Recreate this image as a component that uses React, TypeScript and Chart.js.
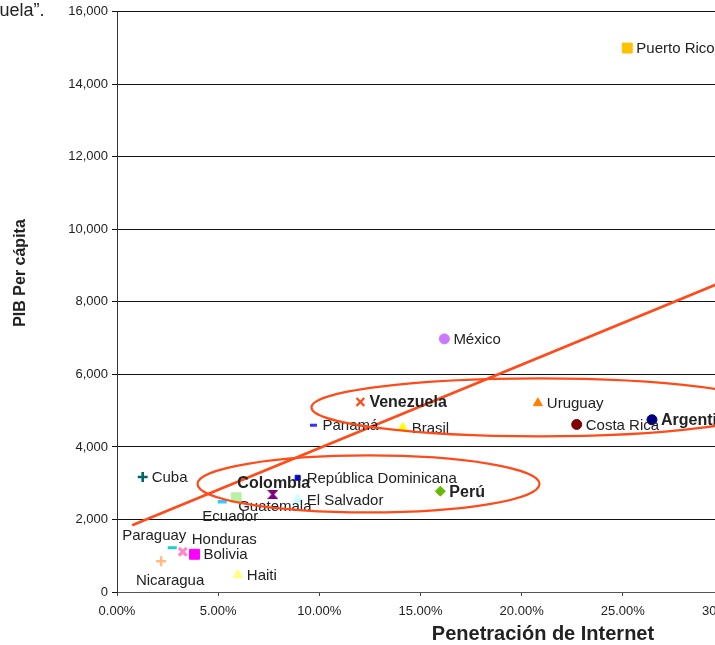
import React, { useEffect, useRef } from "react";
import { Chart, registerables } from "chart.js";

Chart.register(...registerables);

// ---- Data ----
const countries = [
  "Puerto Rico", "México", "Venezuela", "Uruguay", "Panamá", "Brasil", "Costa Rica",
  "Argentina", "Cuba", "República Dominicana", "Colombia", "Perú", "Guatemala",
  "Ecuador", "El Salvador", "Paraguay", "Honduras", "Bolivia", "Nicaragua", "Haiti",
];
const internetPenetration = [
  25.22, 16.18, 12.03, 20.8, 9.71, 14.12, 22.72, 26.44, 1.27, 8.93, 7.7, 15.98, 5.89,
  5.2, 8.93, 2.73, 3.25, 3.83, 2.18, 5.97,
];
const gdpPerCapita = [
  15000, 6980, 5240, 5210, 4600, 4530, 4620, 4750, 3170, 3150, 2690, 2780, 2600,
  2490, 2550, 1220, 1110, 1040, 850, 470,
];
const boldCountries = ["Venezuela", "Argentina", "Colombia", "Perú"];

const trendX = [0.75, 30];
const trendY = [1840, 8570];

// highlighted groups (ellipses), in data units
const ellipseCenterX = [20.87, 12.43];
const ellipseCenterY = [5090, 2980];
const ellipseHalfWidth = [11.26, 8.45];
const ellipseHalfHeight = [800, 785];

const xTicksMax = 30;
const yTicksMax = 16000;

// ---- Styles ----
const markerStyle = [
  "rect", "circle", "crossRot", "triangle", "line", "triangle", "circle", "circle",
  "cross", "rect", "hourglass", "rectRot", "rect", "line", "triangle", "line",
  "crossRot", "rect", "cross", "triangle",
];
const markerColor = [
  "#FFC000", "#CC77FF", "#FF4A1A", "#FF8000", "#3333FF", "#FFFF00", "#800000", "#000080",
  "#006666", "#0000FF", "#800080", "#66BB00", "#B8F0A8", "#33CCFF", "#CCFFFF", "#22CCCC",
  "#FF88CC", "#FF00FF", "#FFBB80", "#FFFF80",
];
const markerSize = [7, 5, 5.5, 5.2, 3.5, 5.2, 5, 5, 5, 3.5, 5, 5, 7, 4.5, 5.5, 4.5, 5.5, 7, 5, 5.5];
const markerBorder = [1, 1, 2.2, 1, 3, 1, 1, 1, 2.6, 1, 1, 1, 1, 3.5, 1, 3, 3.4, 1, 2.4, 1];
const labelPlacement = [
  "right", "right", "right", "right", "right", "right", "right", "right",
  "right", "right", "above", "right", "belowRight", "below", "right", "aboveLeft",
  "aboveRight", "right", "belowCenter", "right",
];

const RED = "#FF4A1A";
const FONT = '"Liberation Sans", Arial, sans-serif';
const TEXT = "#222";

function makeHourglass(color: string) {
  const c = document.createElement("canvas");
  c.width = 11;
  c.height = 9;
  const g = c.getContext("2d")!;
  g.fillStyle = color;
  g.beginPath();
  g.moveTo(0, 0);
  g.lineTo(11, 0);
  g.lineTo(7, 4.5);
  g.lineTo(11, 9);
  g.lineTo(0, 9);
  g.lineTo(4, 4.5);
  g.closePath();
  g.fill();
  return c;
}

const offsets: Record<string, { dx: number; dy: number; align: CanvasTextAlign }> = {
  right: { dx: 9, dy: 1, align: "left" },
  above: { dx: 1, dy: -11, align: "center" },
  belowRight: { dx: 2, dy: 9, align: "left" },
  below: { dx: 8, dy: 15, align: "center" },
  aboveLeft: { dx: -18, dy: -12, align: "center" },
  aboveRight: { dx: 9, dy: -12, align: "left" },
  belowCenter: { dx: 9, dy: 20, align: "center" },
};

export default function App() {
  const ref = useRef<HTMLCanvasElement>(null);

  useEffect(() => {
    const canvas = ref.current!;
    const hourglass = makeHourglass("#800080");
    const pointStyles = markerStyle.map((s) => (s === "hourglass" ? hourglass : s));

    const labelsPlugin = {
      id: "pointLabels",
      afterDatasetsDraw(chart: any) {
        const ctx = chart.ctx;
        const meta = chart.getDatasetMeta(0);
        ctx.save();
        ctx.fillStyle = TEXT;
        ctx.textBaseline = "middle";
        meta.data.forEach((pt: any, i: number) => {
          const bold = boldCountries.includes(countries[i]);
          ctx.font = bold ? `bold 16px ${FONT}` : `15px ${FONT}`;
          const o = offsets[labelPlacement[i]];
          ctx.textAlign = o.align;
          ctx.fillText(countries[i], pt.x + o.dx, pt.y + o.dy);
        });
        ctx.restore();
      },
      afterDraw(chart: any) {
        const ctx = chart.ctx;
        const xs = chart.scales.x;
        const ys = chart.scales.y;
        ctx.save();
        // ellipses
        ctx.strokeStyle = RED;
        ctx.lineWidth = 2.2;
        for (let i = 0; i < ellipseCenterX.length; i++) {
          const cx = xs.getPixelForValue(ellipseCenterX[i]);
          const cy = ys.getPixelForValue(ellipseCenterY[i]);
          const rx = xs.getPixelForValue(ellipseCenterX[i] + ellipseHalfWidth[i]) - cx;
          const ry = cy - ys.getPixelForValue(ellipseCenterY[i] + ellipseHalfHeight[i]);
          ctx.beginPath();
          ctx.ellipse(cx, cy, rx, ry, 0, 0, Math.PI * 2);
          ctx.stroke();
        }
        // axis titles
        ctx.fillStyle = TEXT;
        ctx.textAlign = "center";
        ctx.textBaseline = "alphabetic";
        ctx.font = `bold 20px ${FONT}`;
        ctx.fillText("Penetración de Internet", 543, 640);
        ctx.save();
        ctx.translate(25, 273);
        ctx.rotate(-Math.PI / 2);
        ctx.font = `bold 16px ${FONT}`;
        ctx.fillText("PIB Per cápita", 0, 0);
        ctx.restore();
        // surrounding document text
        ctx.textAlign = "left";
        ctx.font = `18px ${FONT}`;
        ctx.fillText("uela”.", -0.5, 16);
        ctx.restore();
      },
    };

    const chart = new Chart(canvas, {
      type: "scatter",
      data: {
        datasets: [
          {
            data: countries.map((_, i) => ({ x: internetPenetration[i], y: gdpPerCapita[i] })),
            pointStyle: pointStyles as any,
            pointRadius: markerSize,
            pointBackgroundColor: markerColor,
            pointBorderColor: markerColor,
            pointBorderWidth: markerBorder,
          },
          {
            data: trendX.map((x, i) => ({ x, y: trendY[i] })),
            showLine: true,
            borderColor: RED,
            borderWidth: 2.6,
            pointRadius: 0,
          },
        ],
      },
      options: {
        animation: false,
        responsive: false,
        devicePixelRatio: 1,
        layout: { padding: { left: 0, top: 10, right: 36, bottom: 0 } },
        plugins: { legend: { display: false }, tooltip: { enabled: false } },
        scales: {
          x: {
            type: "linear",
            min: 0,
            max: xTicksMax,
            ticks: {
              stepSize: 5,
              color: TEXT,
              font: { family: FONT, size: 13 },
              padding: 8,
              maxRotation: 0,
              callback: (v: any) => Number(v).toFixed(2) + "%",
            },
            grid: { drawOnChartArea: false, drawTicks: true, tickLength: 4, color: "#444" },
            border: { display: true, color: "#555", width: 1 },
            afterFit: (s: any) => {
              s.height = 53;
            },
          },
          y: {
            type: "linear",
            min: 0,
            max: yTicksMax,
            ticks: {
              stepSize: 2000,
              color: TEXT,
              font: { family: FONT, size: 13 },
              padding: 4,
              callback: (v: any) => Number(v).toLocaleString("en-US"),
            },
            grid: { color: "#111", lineWidth: 1, tickLength: 5 },
            border: { display: true, color: "#333", width: 1 },
            afterFit: (s: any) => {
              s.width = 117;
            },
          },
        },
      },
      plugins: [labelsPlugin],
    });
    return () => chart.destroy();
  }, []);

  return (
    <div
      style={{
        position: "fixed",
        left: 0,
        top: 0,
        width: 715,
        height: 645,
        overflow: "hidden",
        background: "#fff",
      }}
    >
      <canvas ref={ref} width={760} height={645} style={{ display: "block" }} />
    </div>
  );
}
